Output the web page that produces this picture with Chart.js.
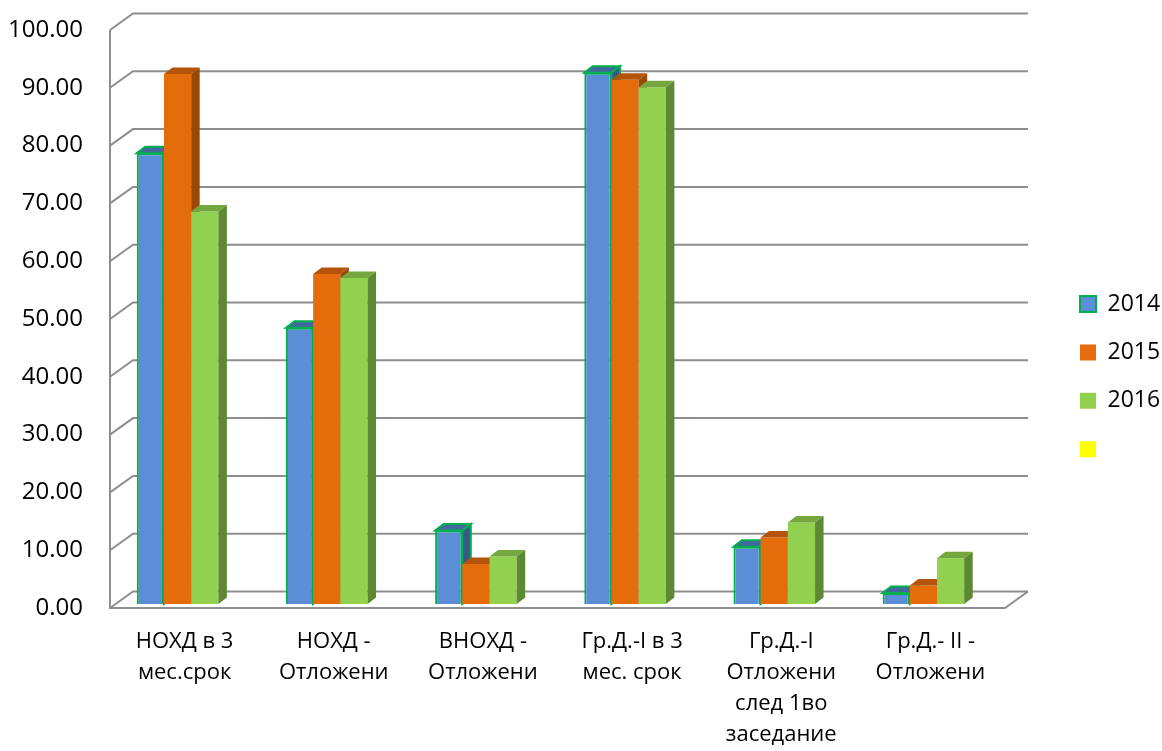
<!DOCTYPE html>
<html>
<head>
<meta charset="utf-8">
<script src="https://cdn.jsdelivr.net/npm/chart.js@4.4.1/dist/chart.umd.min.js"></script>
<style>
html, body { margin: 0; padding: 0; background: #fff; }
#wrap { width: 1162px; height: 751px; }
</style>
</head>
<body>
<div id="wrap"><canvas id="mainChart" width="1162" height="751"></canvas></div>
<script>
// data
var categories = [
    ['НОХД в 3', 'мес.срок'],
    ['НОХД -', 'Отложени'],
    ['ВНОХД -', 'Отложени'],
    ['Гр.Д.-I в 3', 'мес. срок'],
    ['Гр.Д.-I', 'Отложени', 'след 1во', 'заседание'],
    ['Гр.Д.- II -', 'Отложени']
];
var seriesNames = ['2014', '2015', '2016', ''];
var values2014 = [78.0, 47.8, 12.7, 91.9, 9.9, 1.9];
var values2015 = [91.7, 57.1, 6.9, 90.7, 11.5, 3.2];
var values2016 = [67.9, 56.4, 8.2, 89.4, 14.1, 7.9];
var yTicks = [0, 10, 20, 30, 40, 50, 60, 70, 80, 90, 100];

// 3d look
var DEPTH_X = 23, DEPTH_Y = -16.5;   // wall / floor depth
var BAR_DX = 8.5, BAR_DY = -6.5;     // depth of one bar
var SHIFT_X = -7, SHIFT_Y = -4;      // bars stand a bit behind the front edge

var faceColors = [
    { top: '#44689d', side: '#375986' },
    { top: '#b3540a', side: '#9a4806' },
    { top: '#74a83f', side: '#5e8833' },
    { top: '#cccc00', side: '#aaaa00' }
];

var box3d = {
    id: 'box3d',
    afterLayout: function(chart) {
        // legend sits in the middle of the whole picture, like Excel does
        var l = chart.legend;
        var w = l.width, h = l.height;
        l.left = 1054.6; l.right = l.left + w;
        l.top = 376.6 - h / 2; l.bottom = l.top + h;
    },
    beforeDatasetsDraw: function(chart) {
        var ctx = chart.ctx, a = chart.chartArea, ys = chart.scales.y;

        //Walls and gridlines
        ctx.save();
        ctx.strokeStyle = '#8e8e8e';
        ctx.lineWidth = 2;
        ctx.beginPath();
        ys.ticks.forEach(function(t) {
            var py = ys.getPixelForValue(t.value);
            ctx.moveTo(a.left, py);
            ctx.lineTo(a.left + DEPTH_X, py + DEPTH_Y);
            ctx.lineTo(a.right + DEPTH_X, py + DEPTH_Y);
        });
        ctx.moveTo(a.left, ys.getPixelForValue(100));
        ctx.lineTo(a.left, a.bottom);
        ctx.lineTo(a.right, a.bottom);
        ctx.lineTo(a.right + DEPTH_X, a.bottom + DEPTH_Y);
        ctx.stroke();
        ctx.restore();

        //Bars, one series after the other so the later ones cover the sides
        for (var i = 0; i < chart.data.datasets.length; i++) {
            var meta = chart.getDatasetMeta(i);
            var ds = chart.data.datasets[i];
            var fc = faceColors[i];
            ctx.save();
            ctx.translate(SHIFT_X, SHIFT_Y);
            meta.controller.draw();
            meta.data.forEach(function(bar) {
                var left = bar.x - bar.width / 2, right = bar.x + bar.width / 2;
                var top = bar.y, base = bar.base;

                ctx.beginPath();
                ctx.moveTo(left, top);
                ctx.lineTo(left + BAR_DX, top + BAR_DY);
                ctx.lineTo(right + BAR_DX, top + BAR_DY);
                ctx.lineTo(right, top);
                ctx.closePath();
                ctx.fillStyle = fc.top;
                ctx.fill();
                if (ds.borderWidth) {
                    ctx.strokeStyle = ds.borderColor;
                    ctx.lineWidth = ds.borderWidth;
                    ctx.stroke();
                }

                ctx.beginPath();
                ctx.moveTo(right, top);
                ctx.lineTo(right + BAR_DX, top + BAR_DY);
                ctx.lineTo(right + BAR_DX, base + BAR_DY);
                ctx.lineTo(right, base);
                ctx.closePath();
                ctx.fillStyle = fc.side;
                ctx.fill();
                if (ds.borderWidth) {
                    ctx.stroke();
                }
            });
            ctx.restore();
        }
        return false;
    }
};

Chart.defaults.font.family = "'Open Sans', 'Noto Sans', sans-serif";
Chart.defaults.color = '#000';

var ctx = document.getElementById('mainChart').getContext('2d');
var chart = new Chart(ctx, {
    type: 'bar',
    data: {
        labels: categories,
        datasets: [{
            label: seriesNames[0],
            data: values2014,
            backgroundColor: '#5b8ed6',
            borderColor: '#00b050',
            borderWidth: 2
        }, {
            label: seriesNames[1],
            data: values2015,
            backgroundColor: '#e46c0a',
            borderWidth: 0
        }, {
            label: seriesNames[2],
            data: values2016,
            backgroundColor: '#92d050',
            borderWidth: 0
        }, {
            label: seriesNames[3],
            data: [],
            backgroundColor: '#ffff00',
            borderWidth: 0,
            grouped: false
        }]
    },
    plugins: [box3d],
    options: {
        responsive: false,
        animation: false,
        datasets: {
            bar: { categoryPercentage: 0.547, barPercentage: 1.0 }
        },
        layout: { padding: { top: 30, right: 41.5, bottom: 0, left: 0 } },
        plugins: {
            tooltip: { enabled: false },
            legend: {
                position: 'right',
                labels: {
                    boxWidth: 16,
                    boxHeight: 16,
                    padding: 25.4,
                    font: { size: 23 }
                }
            }
        },
        scales: {
            x: {
                grid: { display: false, drawTicks: false },
                border: { display: false },
                afterFit: function(s) {
                    s.height = 143;
                    s.paddingLeft = 0; s.paddingRight = 0;
                },
                ticks: {
                    padding: 18.5,
                    maxRotation: 0,
                    autoSkip: false,
                    font: { size: 22, lineHeight: 1.41 }
                }
            },
            y: {
                min: 0,
                max: 100,
                grid: { display: false, drawTicks: false },
                border: { display: false },
                afterFit: function(s) {
                    s.width = 110;
                    s.paddingTop = 0; s.paddingBottom = 0;
                },
                afterBuildTicks: function(s) {
                    s.ticks = yTicks.map(function(v) { return { value: v }; });
                },
                ticks: {
                    padding: 27,
                    font: { size: 24 },
                    callback: function(v) { return v.toFixed(2); }
                }
            }
        }
    }
});
</script>
</body>
</html>
